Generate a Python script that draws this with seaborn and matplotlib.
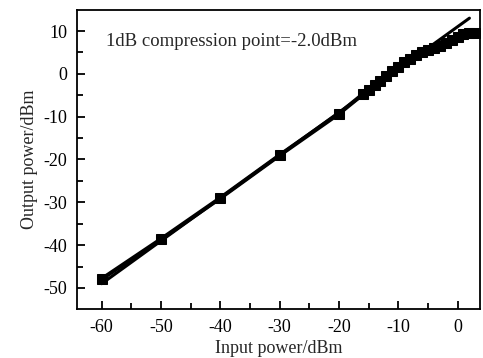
import pandas as pd
import matplotlib
matplotlib.use("Agg")
import matplotlib.pyplot as plt
import matplotlib.ticker as ticker
import seaborn as sns

# Measured points (input / output power in dBm)
input_dbm = [-60, -50, -40, -30, -20,
             -16, -15, -14, -13, -12, -11, -10, -9, -8, -7, -6,
             -5, -4, -3, -2, -1, 0, 1, 2, 3]
output_dbm = [-47.9, -38.6, -29.0, -19.0, -9.3,
              -4.8, -3.8, -2.7, -1.6, -0.5, 0.6, 1.7, 2.7, 3.5, 4.3, 5.0,
              5.6, 6.1, 6.6, 7.2, 7.8, 8.6, 9.3, 9.5, 9.5]

# Linear (small-signal) fit line
fit_in = [-60, 2]
fit_out = [-49, 13]

df = pd.DataFrame({"inp": input_dbm, "out": output_dbm})
fit = pd.DataFrame({"inp": fit_in, "out": fit_out})

sns.set_style("ticks")
plt.rcParams["font.family"] = ["Liberation Serif", "DejaVu Serif"]
plt.rcParams["axes.unicode_minus"] = False

fig = plt.figure(figsize=(4.83, 3.58), dpi=100)
ax = fig.add_axes([0.159, 0.137, 0.835, 0.835])

sns.lineplot(data=fit, x="inp", y="out", ax=ax, color="black", linewidth=2.2)
sns.lineplot(data=df, x="inp", y="out", ax=ax, color="black", linewidth=3,
             marker="s", markersize=7.5, markeredgecolor="black")

ax.text(-59.2, 7.5, "1dB compression point=-2.0dBm", fontsize=13.5, va="center")

ax.set_xlim(-64.2, 3.8)
ax.set_ylim(-54.9, 14.9)
ax.xaxis.set_major_locator(ticker.MultipleLocator(10))
ax.xaxis.set_minor_locator(ticker.MultipleLocator(5))
ax.yaxis.set_major_locator(ticker.MultipleLocator(10))
ax.yaxis.set_minor_locator(ticker.MultipleLocator(5))
ax.tick_params(which="both", direction="in", color="black", width=1.3, labelsize=13,
               labelcolor="black")
ax.tick_params(axis="x", pad=7)
ax.tick_params(axis="y", pad=7)
ax.tick_params(which="major", length=6)
ax.tick_params(which="minor", length=4)
for s in ax.spines.values():
    s.set_color("black")
    s.set_linewidth(1.3)

ax.set_xlabel("Input power/dBm", fontsize=13, labelpad=3)
ax.set_ylabel("Output power/dBm", fontsize=13, labelpad=4)

fig.savefig("out.png", dpi=100)
